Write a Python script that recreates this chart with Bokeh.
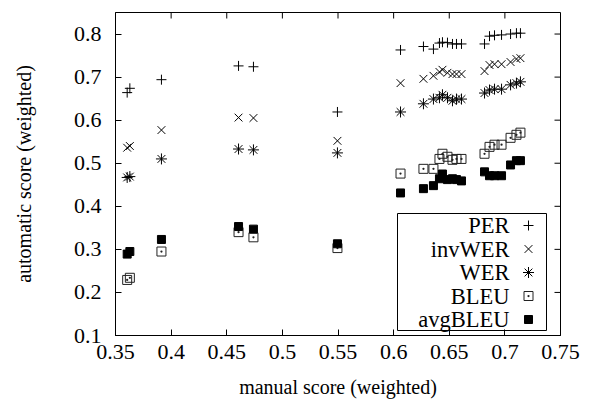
from bokeh.plotting import figure
from bokeh.models import Range1d, FixedTicker
from bokeh.core.properties import value
from bokeh.embed import file_html
from bokeh.resources import INLINE

# ---- data ----
manual = [0.3605, 0.3629, 0.3913, 0.4606, 0.4740, 0.5495, 0.6062, 0.6268, 0.6358,
          0.6412, 0.6439, 0.6484, 0.6529, 0.6565, 0.6610, 0.6817, 0.6862, 0.6907,
          0.6970, 0.7051, 0.7104, 0.7140]
per = [0.664, 0.674, 0.694, 0.726, 0.724, 0.619, 0.763, 0.771, 0.765, 0.779, 0.781,
       0.780, 0.777, 0.777, 0.777, 0.777, 0.795, 0.797, 0.798, 0.800, 0.802, 0.802]
inv_wer = [0.536, 0.540, 0.577, 0.606, 0.605, 0.552, 0.686, 0.696, 0.703, 0.712, 0.717,
           0.710, 0.707, 0.707, 0.707, 0.714, 0.728, 0.730, 0.730, 0.735, 0.742, 0.744]
wer = [0.467, 0.469, 0.510, 0.533, 0.531, 0.524, 0.619, 0.638, 0.649, 0.652, 0.659,
       0.652, 0.645, 0.649, 0.649, 0.663, 0.670, 0.672, 0.672, 0.682, 0.686, 0.689]
bleu = [0.229, 0.234, 0.295, 0.340, 0.328, 0.303, 0.476, 0.487, 0.487, 0.510, 0.522,
        0.515, 0.508, 0.510, 0.510, 0.522, 0.538, 0.543, 0.543, 0.559, 0.566, 0.571]
avg_bleu = [0.289, 0.295, 0.323, 0.353, 0.347, 0.313, 0.431, 0.441, 0.448, 0.464, 0.475,
            0.462, 0.464, 0.462, 0.459, 0.480, 0.471, 0.471, 0.471, 0.496, 0.506, 0.506]
series_names = ["PER", "invWER", "WER", "BLEU", "avgBLEU"]
x_ticks = [0.35, 0.4, 0.45, 0.5, 0.55, 0.6, 0.65, 0.7, 0.75]
x_tick_labels = ["0.35", "0.4", "0.45", "0.5", "0.55", "0.6", "0.65", "0.7", "0.75"]
y_ticks = [0.1, 0.2, 0.3, 0.4, 0.5, 0.6, 0.7, 0.8]
y_tick_labels = ["0.1", "0.2", "0.3", "0.4", "0.5", "0.6", "0.7", "0.8"]

FONT = "Liberation Serif"
W, H = 590, 407
FL, FR, FT, FB = 115, 560, 12, 335          # frame edges (pixels)
FW, FH = FR - FL, FB - FT
XMIN, XMAX, YMIN, YMAX = 0.35, 0.75, 0.1, 0.85
TICK = 6

p = figure(width=W, height=H, output_backend="svg", toolbar_location=None,
           x_range=Range1d(XMIN, XMAX), y_range=Range1d(YMIN, YMAX),
           min_border_left=FL, min_border_right=W - FR, min_border_top=FT,
           min_border_bottom=H - FB)
p.grid.visible = False
p.outline_line_color = "black"
p.outline_line_width = 1
p.background_fill_color = "white"
p.border_fill_color = "white"


def style_axis(ax, ticks, labels, standoff):
    ax.ticker = FixedTicker(ticks=ticks)
    ax.major_label_overrides = {t: l for t, l in zip(ticks, labels)}
    ax.major_tick_in = TICK
    ax.major_tick_out = 0
    ax.minor_tick_in = 0
    ax.minor_tick_out = 0
    ax.major_tick_line_color = "black"
    ax.axis_line_color = "black"
    ax.major_label_text_font = FONT
    ax.major_label_text_color = "black"
    ax.major_label_text_font_size = "22px"
    ax.major_label_standoff = standoff
    ax.axis_label_text_font = FONT
    ax.axis_label_text_font_size = "20px"
    ax.axis_label_text_font_style = "normal"
    ax.axis_label_text_color = "black"


style_axis(p.xaxis[0], x_ticks, x_tick_labels, 9)
style_axis(p.yaxis[0], y_ticks, y_tick_labels, 14)
p.xaxis[0].axis_label = "manual score (weighted)"
p.yaxis[0].axis_label = "automatic score (weighted)"
p.xaxis[0].axis_label_standoff = 14
p.yaxis[0].axis_label_standoff = 36

# mirror ticks on the top and right borders (gnuplot style)
dy = TICK / FH * (YMAX - YMIN)
dx = TICK / FW * (XMAX - XMIN)
p.segment(x0=x_ticks, y0=[YMAX] * len(x_ticks), x1=x_ticks, y1=[YMAX - dy] * len(x_ticks),
          line_color="black", line_width=1)
p.segment(x0=[XMAX] * len(y_ticks), y0=y_ticks, x1=[XMAX - dx] * len(y_ticks), y1=y_ticks,
          line_color="black", line_width=1)

# ---- series ----
styles = {
    "PER": dict(marker="cross", size=10, line_color="black", fill_color=None, line_width=1),
    "invWER": dict(marker="x", size=11, line_color="black", fill_color=None, line_width=1),
    "WER": dict(marker="asterisk", size=11, line_color="black", fill_color=None, line_width=1),
    "BLEU": dict(marker="square_dot", size=9, line_color="#222222", fill_color=None, line_width=1),
    "avgBLEU": dict(marker="square", size=8, line_color="black", fill_color="black", line_width=1),
}
values = {"PER": per, "invWER": inv_wer, "WER": wer, "BLEU": bleu, "avgBLEU": avg_bleu}
for name in series_names:
    p.scatter(manual, values[name], **styles[name])


# ---- key (gnuplot style: text right-aligned, sample at right, boxed) ----
def sx(px):  # window x pixel -> data
    return XMIN + (px - FL) / FW * (XMAX - XMIN)


def sy(py):  # window y pixel -> data
    return YMAX - (py - FT) / FH * (YMAX - YMIN)


p.quad(left=[sx(397)], right=[sx(546)], top=[sy(213)], bottom=[sy(330)],
       fill_color="white", line_color="black", line_width=1)
row_py = [225, 248.5, 272, 295.5, 319]
for name, ry in zip(series_names, row_py):
    p.text(x=[sx(509)], y=[sy(ry)], text=[name], text_align="right",
           text_baseline="middle", text_font=value(FONT), text_font_size="22.5px",
           text_color="black")
    p.scatter([sx(528)], [sy(ry)], **styles[name])

open("out.html", "w").write(file_html(p, INLINE))
